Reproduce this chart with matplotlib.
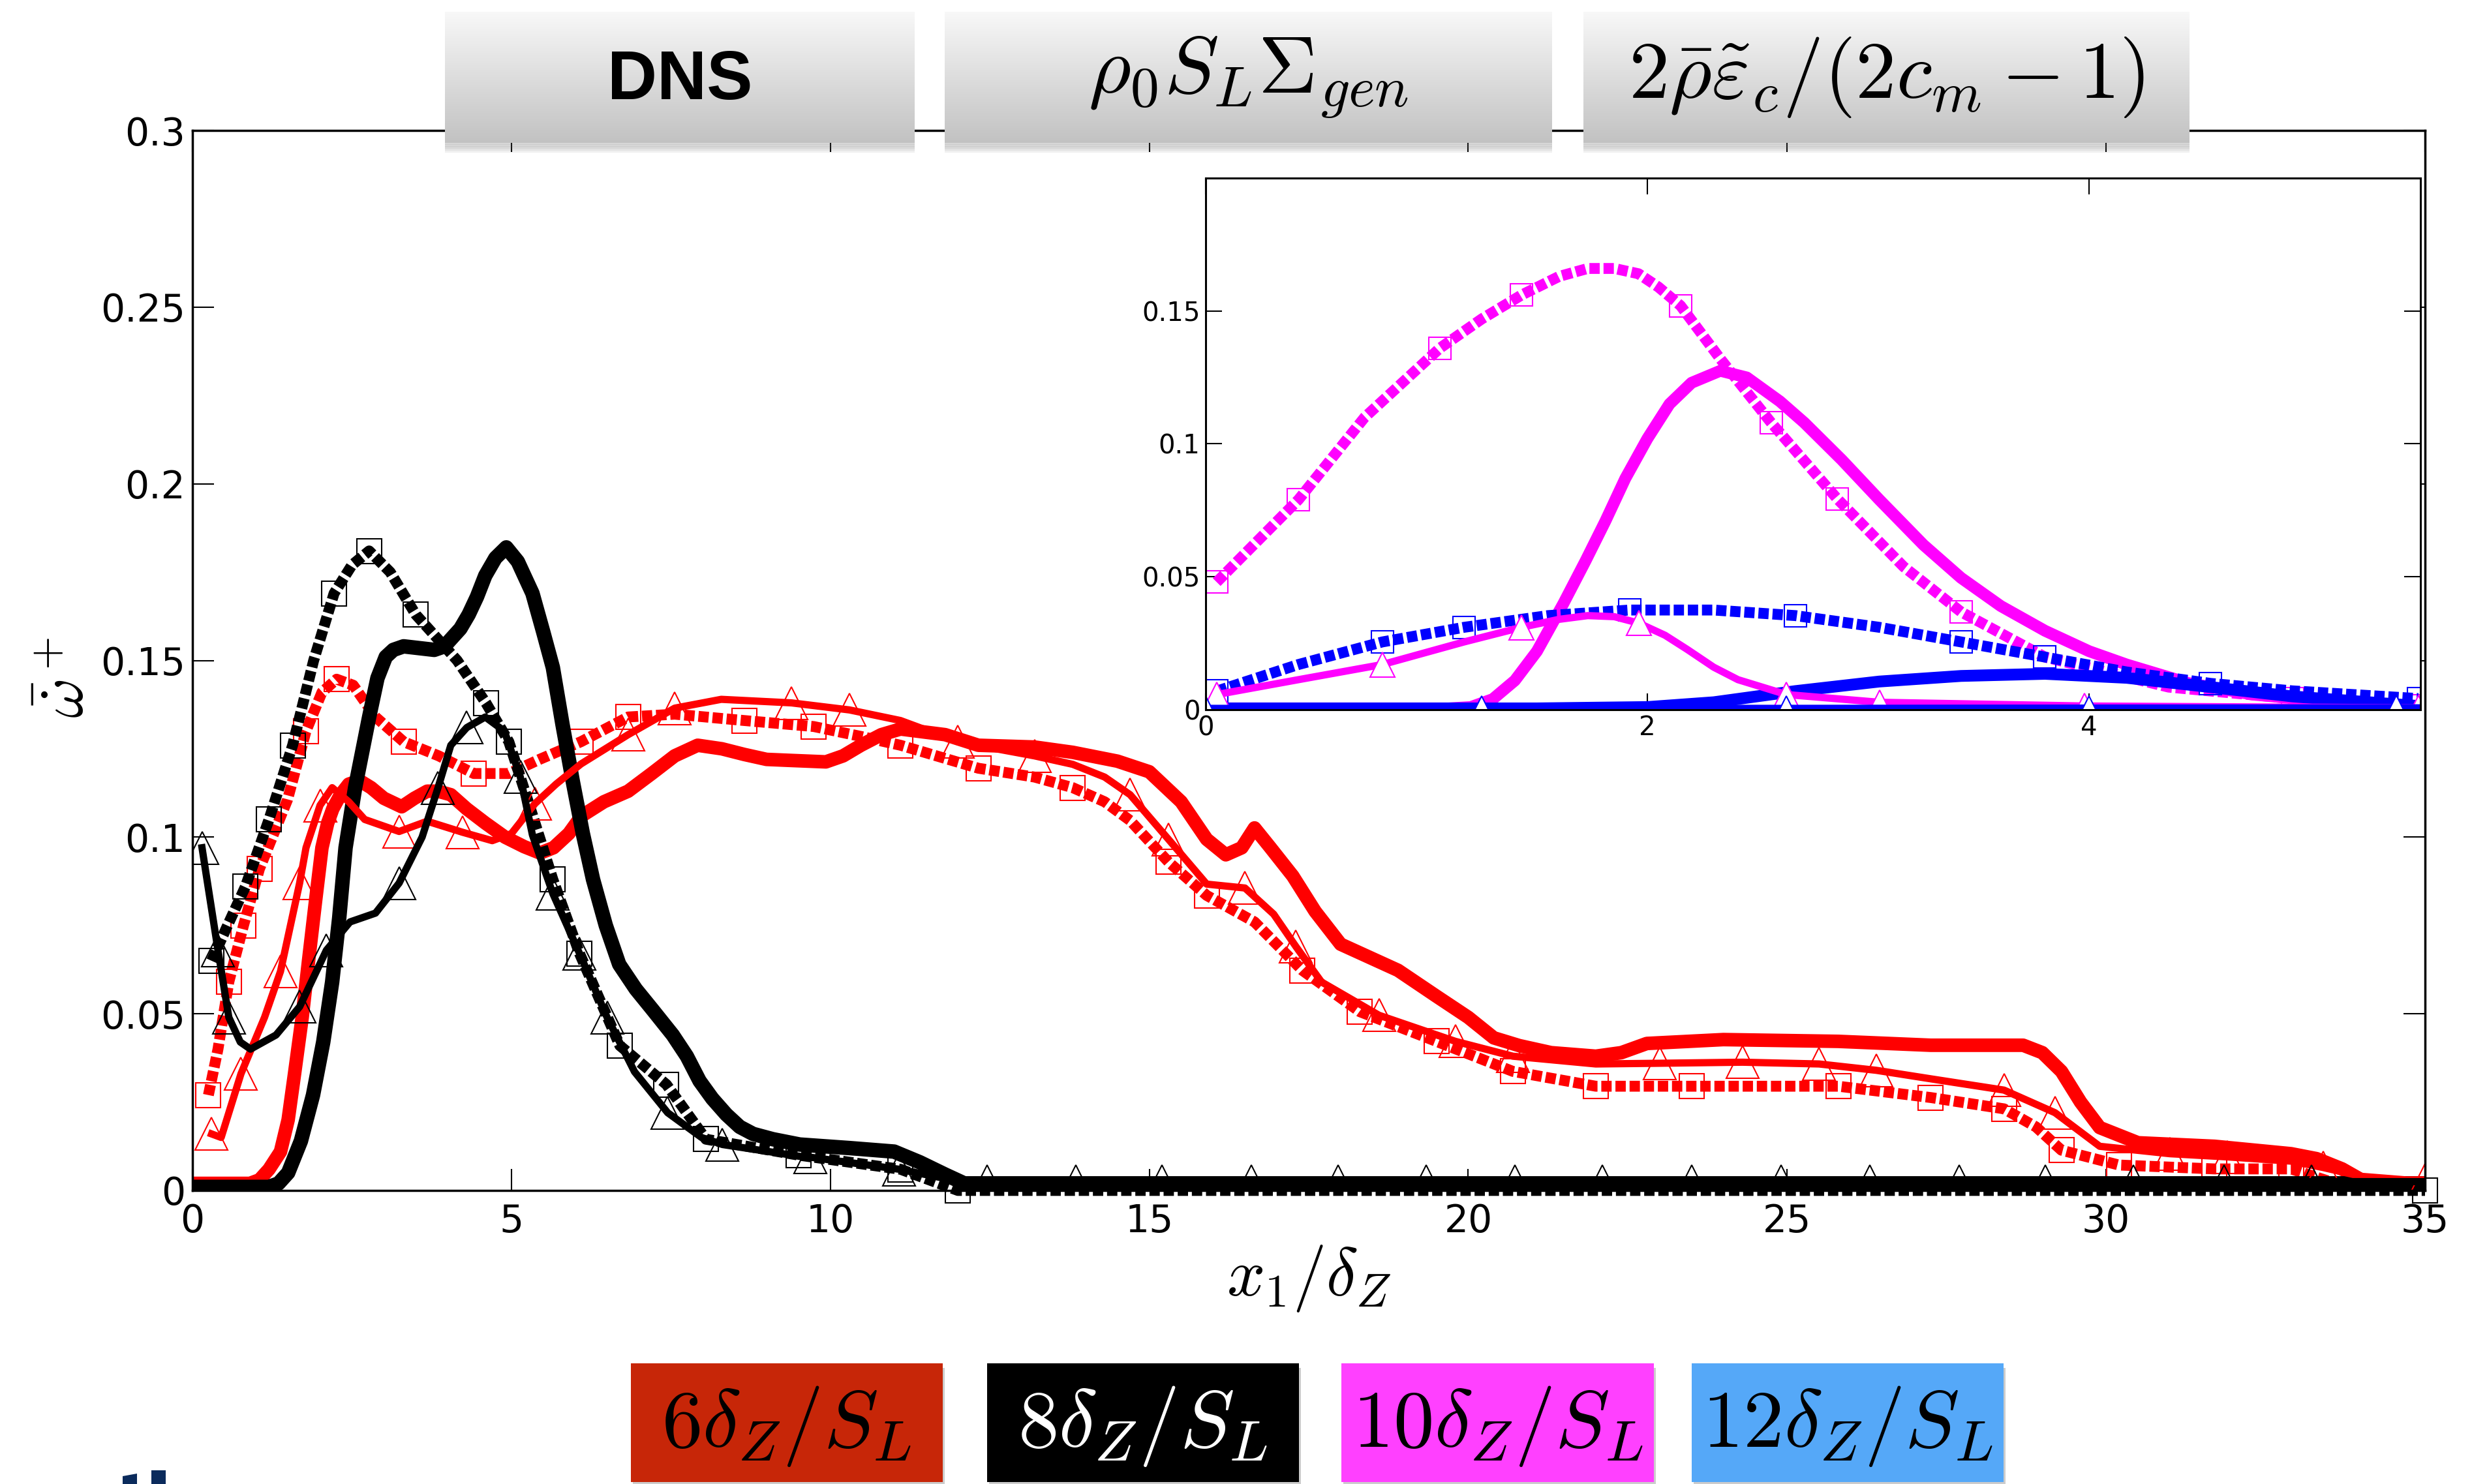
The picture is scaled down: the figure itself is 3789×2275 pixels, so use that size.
import numpy as np
import matplotlib
matplotlib.use("Agg")
import matplotlib.pyplot as plt
from matplotlib.patches import Rectangle, Polygon
from matplotlib.colors import LinearSegmentedColormap

plt.rcParams["mathtext.fontset"] = "cm"
plt.rcParams["font.family"] = "DejaVu Sans"

# ---------------- main plot data (x1/delta_Z, omega+) ----------------
# 6 dZ/SL : DNS (thick), rho0 SL Sigma_gen (thin, triangles), 2 rho eps/(2cm-1) (dashed, squares)
red_dns_x = [0, 0.9, 1.05, 1.2, 1.38, 1.5, 1.6, 1.72, 1.82, 1.93, 2.03, 2.12, 2.2, 2.32, 2.45, 2.62,
             2.8, 3.0, 3.28, 3.48, 3.68, 3.85, 4.05, 4.3, 4.59, 4.9, 5.2, 5.45, 5.66, 5.9, 6.1, 6.45,
             6.83, 7.2, 7.56, 7.92, 8.3, 8.65, 9.0, 9.39, 9.93, 10.2, 10.48, 10.8, 11.1, 11.8, 12.32,
             13.2, 13.8, 14.5, 15.0, 15.5, 15.9, 16.2, 16.45, 16.65, 16.9, 17.25, 17.6, 18.0, 18.9,
             19.5, 20.0, 20.4, 20.8, 21.3, 22.0, 22.4, 22.8, 24.0, 25.8, 27.25, 28.7, 29.0, 29.3, 29.6,
             29.9, 30.5, 31.7, 32.9, 33.3, 33.7, 34.1, 34.4]
red_dns_y = [0.002, 0.002, 0.003, 0.006, 0.011, 0.02, 0.033, 0.049, 0.065, 0.082, 0.097, 0.104, 0.108,
             0.112, 0.115, 0.116, 0.114, 0.111, 0.1086, 0.111, 0.113, 0.113, 0.112, 0.108, 0.104,
             0.1, 0.0973, 0.0955, 0.097, 0.101, 0.106, 0.11, 0.113, 0.118, 0.123, 0.126, 0.125,
             0.1234, 0.122, 0.1217, 0.1213, 0.123, 0.126, 0.129, 0.1306, 0.129, 0.126, 0.1255, 0.124,
             0.1215, 0.1185, 0.11, 0.0994, 0.095, 0.097, 0.1026, 0.097, 0.089, 0.079, 0.0697, 0.0623,
             0.055, 0.049, 0.0432, 0.041, 0.039, 0.038, 0.039, 0.0416, 0.0427, 0.0422, 0.0411, 0.0411,
             0.039, 0.0337, 0.025, 0.0178, 0.0135, 0.0125, 0.0104, 0.009, 0.0061, 0.002, 0.0005]

red_sig_x = [0.3, 0.45, 0.76, 1.13, 1.38, 1.68, 1.78, 2.0, 2.19, 2.45, 2.7, 3.24, 3.68, 4.23, 4.7,
             5.0, 5.37, 5.7, 6.09, 6.83, 7.56, 8.29, 9.39, 10.3, 11.1, 12.0, 12.6, 13.2, 13.8, 14.3,
             14.7, 15.3, 15.9, 16.5, 16.95, 17.3, 17.7, 18.6, 19.8, 20.7, 22.0, 23.0, 24.3, 25.5,
             26.4, 27.25, 28.4, 29.2, 29.9, 31.0, 31.9, 32.9, 33.4, 34.0, 34.7, 35.0]
red_sig_y = [0.016, 0.015, 0.033, 0.049, 0.062, 0.087, 0.097, 0.109, 0.114, 0.11, 0.105, 0.1016,
             0.1045, 0.1014, 0.099, 0.101, 0.1095, 0.115, 0.1207, 0.129, 0.1365, 0.139, 0.138, 0.136,
             0.133, 0.127, 0.125, 0.123, 0.1206, 0.117, 0.112, 0.0994, 0.0867, 0.0856, 0.0782, 0.069,
             0.059, 0.0496, 0.0422, 0.038, 0.0358, 0.036, 0.0363, 0.0358, 0.034, 0.0316, 0.0284, 0.022,
             0.0125, 0.0104, 0.0095, 0.0083, 0.0065, 0.004, 0.003, 0.003]

red_eps_x = [0.25, 0.4, 0.57, 0.8, 1.05, 1.49, 1.78, 2.03, 2.26, 2.52, 2.87, 3.31, 3.86, 4.41, 4.96,
             5.44, 6.09, 6.83, 7.56, 8.65, 9.74, 10.48, 11.1, 12.32, 13.2, 13.8, 14.3, 14.7, 15.3,
             15.9, 16.65, 17.4, 18.3, 19.5, 20.7, 22.0, 23.5, 24.3, 25.8, 27.25, 28.4, 28.9, 29.3,
             30.2, 31.7, 32.9, 33.8, 34.2]
red_eps_y = [0.027, 0.04, 0.059, 0.075, 0.091, 0.1106, 0.13, 0.141, 0.1447, 0.143, 0.134, 0.127,
             0.123, 0.118, 0.118, 0.122, 0.127, 0.134, 0.1348, 0.133, 0.1313, 0.1285, 0.126, 0.1195,
             0.117, 0.114, 0.11, 0.1047, 0.093, 0.0835, 0.076, 0.0623, 0.0506, 0.0422, 0.0337,
             0.0295, 0.0295, 0.0295, 0.0295, 0.0263, 0.0231, 0.018, 0.0114, 0.0072, 0.0061, 0.0061,
             0.0008, 0.0]

# 8 dZ/SL
blk_dns_x = [0, 1.2, 1.35, 1.5, 1.7, 1.89, 2.05, 2.19, 2.3, 2.4, 2.55, 2.77, 2.9, 3.03, 3.15, 3.31,
             3.79, 3.95, 4.05, 4.2, 4.33, 4.46, 4.59, 4.75, 4.92, 5.1, 5.33, 5.5, 5.65, 5.8, 5.96,
             6.12, 6.28, 6.48, 6.69, 6.95, 7.22, 7.53, 7.75, 7.95, 8.15, 8.37, 8.58, 8.79, 9.1, 9.52,
             10.3, 11.0, 11.4, 11.8, 12.1, 35.0]
blk_dns_y = [0.001, 0.001, 0.002, 0.005, 0.014, 0.027, 0.042, 0.059, 0.077, 0.097, 0.114, 0.134,
             0.145, 0.151, 0.153, 0.154, 0.153, 0.154, 0.156, 0.159, 0.163, 0.168, 0.174, 0.179,
             0.182, 0.178, 0.169, 0.158, 0.148, 0.132, 0.116, 0.101, 0.088, 0.075, 0.064, 0.057,
             0.051, 0.044, 0.038, 0.031, 0.026, 0.0215, 0.018, 0.016, 0.0145, 0.013, 0.012, 0.011,
             0.008, 0.0045, 0.002, 0.002]

# the model line lies flat on the axis beyond x = 12; vertices there sit at its triangles
blk_sig_x = [0.15, 0.21, 0.4, 0.57, 0.75, 0.91, 1.31, 1.68, 2.1, 2.47, 2.87, 3.24, 3.6, 3.85, 4.05,
             4.3, 4.59, 4.89, 5.14, 5.33, 5.65, 6.07, 6.5, 6.93, 7.45, 7.98, 8.31, 9.54, 9.69, 11.08,
             12.05, 12.46, 13.85, 15.2, 16.6, 17.96, 19.34, 20.73, 22.1, 23.5, 24.9, 26.3, 27.7,
             29.05, 30.43, 31.85, 33.22, 34.64, 35.0]
blk_sig_y = [0.097, 0.09, 0.068, 0.049, 0.042, 0.040, 0.044, 0.052, 0.068, 0.076, 0.0785, 0.087,
             0.100, 0.114, 0.126, 0.131, 0.134, 0.130, 0.117, 0.1006, 0.084, 0.067, 0.049, 0.0336,
             0.022, 0.015, 0.013, 0.0096, 0.0094, 0.006, 0.0025, 0.0025, 0.0025, 0.0025, 0.0025,
             0.0025, 0.0025, 0.0025, 0.0025, 0.0025, 0.0025, 0.0025, 0.0025, 0.0025, 0.0025, 0.0025,
             0.0025, 0.0025, 0.0025]

blk_eps_x = [0.3, 0.55, 0.83, 1.2, 1.57, 1.9, 2.22, 2.5, 2.77, 3.1, 3.5, 3.8, 4.15, 4.6, 4.96, 5.3,
             5.65, 6.07, 6.7, 7.43, 8.05, 9.5, 11.1, 12.0, 35.0]
blk_eps_y = [0.065, 0.075, 0.086, 0.105, 0.126, 0.15, 0.169, 0.177, 0.181, 0.175, 0.163, 0.157,
             0.150, 0.138, 0.127, 0.108, 0.088, 0.067, 0.041, 0.030, 0.0145, 0.010, 0.006, 0.0, 0.0]

main_xticks = [0, 5, 10, 15, 20, 25, 30, 35]
main_yticks = [0, 0.05, 0.1, 0.15, 0.2, 0.25, 0.3]
main_ylabels = ["0", "0.05", "0.1", "0.15", "0.2", "0.25", "0.3"]

# ---------------- inset data (10 and 12 dZ/SL) ----------------
mag_dns_x = [0, 1.1, 1.2, 1.3, 1.4, 1.5, 1.62, 1.72, 1.81, 1.9, 2.0, 2.1, 2.2, 2.33, 2.45, 2.6, 2.71,
             2.88, 3.05, 3.25, 3.42, 3.6, 3.8, 4.0, 4.17, 4.45, 4.74, 5.1, 5.49]
mag_dns_y = [0.0005, 0.0005, 0.001, 0.004, 0.011, 0.022, 0.040, 0.056, 0.071, 0.087, 0.102, 0.115,
             0.123, 0.1275, 0.125, 0.116, 0.108, 0.094, 0.079, 0.062, 0.0496, 0.039, 0.0297, 0.022,
             0.017, 0.010, 0.0057, 0.003, 0.0014]
mag_sig_x = [0.05, 0.42, 0.8, 1.17, 1.43, 1.6, 1.73, 1.85, 1.96, 2.08, 2.18, 2.3, 2.41, 2.63, 3.05,
             3.98, 5.49]
mag_sig_y = [0.0057, 0.0113, 0.017, 0.0255, 0.031, 0.034, 0.0354, 0.035, 0.0326, 0.028, 0.0227,
             0.016, 0.0113, 0.0057, 0.0028, 0.0014, 0.0007]
mag_eps_x = [0.05, 0.42, 0.72, 1.06, 1.25, 1.43, 1.6, 1.73, 1.85, 1.96, 2.05, 2.15, 2.33, 2.56, 2.86,
             3.16, 3.42, 3.8, 4.36, 4.92, 5.49]
mag_eps_y = [0.048, 0.079, 0.110, 0.136, 0.147, 0.156, 0.163, 0.166, 0.166, 0.164, 0.159, 0.152,
             0.132, 0.108, 0.0793, 0.0538, 0.0368, 0.0198, 0.0085, 0.0042, 0.0014]
blu_dns_x = [0, 1.5, 2.0, 2.3, 2.67, 3.05, 3.42, 3.8, 4.17, 4.55, 4.92, 5.49]
blu_dns_y = [0.0005, 0.0005, 0.001, 0.0028, 0.007, 0.0106, 0.0127, 0.0135, 0.012, 0.0085, 0.005,
             0.0014]
blu_sig_x = [0, 1.25, 2.63, 4.0, 5.39, 5.49]
blu_sig_y = [0.0005, 0.0005, 0.0005, 0.0006, 0.0007, 0.0007]
blu_eps_x = [0.05, 0.42, 0.8, 1.17, 1.55, 1.92, 2.3, 2.67, 3.05, 3.42, 3.8, 4.17, 4.55, 4.92, 5.49]
blu_eps_y = [0.007, 0.017, 0.0255, 0.031, 0.0354, 0.0375, 0.0375, 0.0354, 0.031, 0.0255, 0.0198,
             0.0142, 0.0099, 0.0071, 0.0042]

inset_xticks = [0, 2, 4]
inset_yticks = [0, 0.05, 0.1, 0.15]
inset_ylabels = ["0", "0.05", "0.1", "0.15"]

headers = ["DNS", r"$\rho_0 S_L \Sigma_{gen}$", r"$2\bar{\rho}\tilde{\varepsilon}_c/(2c_m-1)$"]
cases = [r"$6\delta_Z/S_L$", r"$8\delta_Z/S_L$", r"$10\delta_Z/S_L$", r"$12\delta_Z/S_L$"]
case_colors = ["#c72608", "#000000", "#ff40ff", "#55a8f8"]
case_text = ["black", "white", "black", "black"]

# ---------------- figure ----------------
W, H = 3789, 2275
fig = plt.figure(figsize=(W / 100, H / 100), dpi=100)


def rect(x0, y0, x1, y1):
    # pixel box (origin top-left) -> figure fraction
    return [x0 / W, 1 - y1 / H, (x1 - x0) / W, (y1 - y0) / H]


RED, BLK, MAG, BLU = "#ff0000", "#000000", "#ff00ff", "#0000ff"
DASH = (0, (0.95, 0.35))


def three_lines(a, c, dns, sig, eps, lw=(16, 8, 12), ms=(36, 28), every=0.036):
    a.plot(*dns, color=c, lw=lw[0], solid_joinstyle="round", solid_capstyle="butt")
    a.plot(*eps, color=c, lw=lw[2], ls=DASH, marker="s", ms=ms[1], mfc="none", mec=c, mew=1.5,
           markevery=every)
    # model line on top so its triangles stay visible over the thick curves
    a.plot(*sig, color=c, lw=lw[1], marker="^", ms=ms[0], mfc="none", mec=c, mew=1.5,
           markevery=every, solid_joinstyle="round", zorder=2.5)


ax = fig.add_axes(rect(295, 200, 3717, 1825))
three_lines(ax, RED, (red_dns_x, red_dns_y), (red_sig_x, red_sig_y), (red_eps_x, red_eps_y),
            lw=(15, 8, 12))
three_lines(ax, BLK, (blk_dns_x, blk_dns_y), (blk_sig_x, blk_sig_y), (blk_eps_x, blk_eps_y))
ax.lines[-2].set_clip_on(False)
ax.set_xlim(0, 35)
ax.set_ylim(0, 0.3)
ax.set_xticks(main_xticks)
ax.set_xticklabels([str(v) for v in main_xticks])
ax.set_yticks(main_yticks)
ax.set_yticklabels(main_ylabels)
ax.tick_params(direction="in", top=True, right=True, length=24, width=1.5, labelsize=42)
ax.tick_params(axis="x", pad=14)
ax.tick_params(axis="y", pad=8)
for s in ax.spines.values():
    s.set_linewidth(2.5)
ax.set_xlabel(r"$x_1/\delta_Z$", fontsize=74)
ax.xaxis.set_label_coords(0.5, -0.05)
ax.set_ylabel(r"$\bar{\dot{\omega}}^+$", fontsize=68)
ax.yaxis.set_label_coords(-0.043, 0.484)

# inset
ins = fig.add_axes(rect(1848, 273, 3710, 1088))
ins.set_zorder(1)
three_lines(ins, MAG, (mag_dns_x, mag_dns_y), (mag_sig_x, mag_sig_y), (mag_eps_x, mag_eps_y),
            lw=(13, 8, 12), ms=(28, 24), every=0.11)
three_lines(ins, BLU, (blu_dns_x, blu_dns_y), (blu_sig_x, blu_sig_y), (blu_eps_x, blu_eps_y),
            lw=(13, 8, 12), ms=(28, 24), every=0.11)
for ln in ins.lines[2::3]:
    ln.set_markerfacecolor("white")
ins.set_xlim(0, 5.5)
ins.set_ylim(0, 0.2)
ins.set_xticks(inset_xticks)
ins.set_xticklabels([str(v) for v in inset_xticks])
ins.set_yticks(inset_yticks)
ins.set_yticklabels(inset_ylabels)
ins.tick_params(direction="in", top=True, right=True, length=18, width=1.5, labelsize=29, pad=6)
for s in ins.spines.values():
    s.set_linewidth(2.2)

# header boxes with grey gradient and soft shadow
grey = LinearSegmentedColormap.from_list("hdr", ["#f8f8f8", "#c2c2c2"])
grad = np.linspace(0, 1, 256).reshape(-1, 1)
header_x = [(682, 1402), (1448, 2379), (2427, 3356)]
for (x0, x1), lab in zip(header_x, headers):
    for k in range(5):
        fig.patches.append(Rectangle((x0 / W, 1 - (222 + 3 * k) / H), (x1 - x0) / W, 10 / H,
                                     transform=fig.transFigure, color="#606060", alpha=0.09,
                                     lw=0, zorder=1.5))
    hb = fig.add_axes(rect(x0, 18, x1, 219))
    hb.set_zorder(2)
    hb.imshow(grad, cmap=grey, aspect="auto", extent=[0, 1, 0, 1], vmin=0, vmax=1)
    hb.axis("off")
    if lab == "DNS":
        hb.text(0.5, 0.47, lab, ha="center", va="center", fontsize=76, fontweight="bold",
                family="Liberation Sans")
    else:
        hb.text(0.5, 0.5, lab, ha="center", va="center", fontsize=90)

# coloured case boxes at the bottom
case_x = [(967, 1445), (1513, 1991), (2056, 2535), (2593, 3071)]
for (x0, x1), lab, fc, tc in zip(case_x, cases, case_colors, case_text):
    fig.patches.append(Rectangle((x0 / W + 3 / W, 1 - 2275 / H), (x1 - x0) / W, (2272 - 2094) / H,
                                 transform=fig.transFigure, color="#9a9a9a", alpha=0.5, lw=0,
                                 zorder=1.5))
    cb = fig.add_axes(rect(x0, 2090, x1, 2272))
    cb.set_zorder(2)
    cb.set_facecolor(fc)
    cb.set_xticks([])
    cb.set_yticks([])
    for s in cb.spines.values():
        s.set_visible(False)
    cb.text(0.5, 0.47, lab, ha="center", va="center", fontsize=90, color=tc, transform=cb.transAxes)

# cut-off logo fragment in the lower left corner (two navy stubs)
navy = "#0b2b5c"
fig.patches.append(Polygon([(188 / W, 0), (188 / W, 1 - 2263 / H), (210 / W, 1 - 2259 / H),
                            (210 / W, 0)], closed=True, transform=fig.transFigure, color=navy,
                           lw=0))
fig.patches.append(Rectangle((232 / W, 0), 22 / W, 21 / H, transform=fig.transFigure, color=navy,
                             lw=0))

fig.savefig("out.png", dpi=100)
